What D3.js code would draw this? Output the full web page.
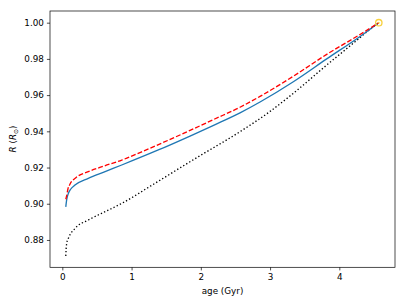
<!DOCTYPE html>
<html>
<head>
<meta charset="utf-8">
<script src="https://cdn.jsdelivr.net/npm/d3@7"></script>
<style>
    body { margin: 0; background: #fff; }
    svg text { font-family: "DejaVu Sans", sans-serif; }
</style>
</head>
<body>
<div id="chart"></div>
<script>
// ages in Gyr, radius in solar radii
const blueAge = [0.05, 0.06, 0.07, 0.087, 0.12, 0.183, 0.375, 0.6, 0.858, 1.386, 1.844, 2.2, 2.566, 2.855, 3.336, 3.818, 4.299, 4.57];
const blueR = [0.8983, 0.9015, 0.9035, 0.9057, 0.908, 0.9103, 0.914, 0.9175, 0.9214, 0.9297, 0.9374, 0.9436, 0.9502, 0.9562, 0.9674, 0.98, 0.9924, 1.0];

const redAge = [0.05, 0.063, 0.08, 0.11, 0.2, 0.375, 0.6, 0.858, 1.147, 1.844, 2.2, 2.566, 2.855, 3.336, 3.818, 4.299, 4.57];
const redR = [0.9025, 0.9045, 0.908, 0.9108, 0.9145, 0.9177, 0.9208, 0.9241, 0.9287, 0.9405, 0.9468, 0.9533, 0.9593, 0.9704, 0.9825, 0.9935, 1.0];

const blackAge = [0.05, 0.055, 0.065, 0.087, 0.183, 0.375, 0.617, 0.858, 1.339, 1.844, 2.013, 2.566, 3.0, 3.336, 3.818, 4.2, 4.44, 4.57];
const blackR = [0.8711, 0.875, 0.8785, 0.8809, 0.8864, 0.891, 0.8956, 0.9002, 0.9113, 0.9232, 0.9271, 0.9398, 0.951, 0.961, 0.9766, 0.9886, 0.9962, 1.0];

const sunAge = [4.57];
const sunR = [1.0];

const xTicks = [0, 1, 2, 3, 4];
const yTicks = [0.88, 0.90, 0.92, 0.94, 0.96, 0.98, 1.00];

const width = 407, height = 305;
const margin = { left: 50, right: 12, top: 11, bottom: 38 };

const svg = d3.select("#chart").append("svg")
    .attr("width", width)
    .attr("height", height);

const x = d3.scaleLinear()
    .domain([-0.178, 4.804])
    .range([margin.left, width - margin.right]);

const y = d3.scaleLinear()
    .domain([0.8649, 1.00645])
    .range([height - margin.bottom + 0.3, margin.top]);

const line = d3.line()
    .curve(d3.curveMonotoneX)
    .x(d => x(d[0]))
    .y(d => y(d[1]));

const plot = svg.append("g");

plot.append("path")
    .datum(d3.zip(blackAge, blackR))
    .attr("d", line)
    .attr("fill", "none")
    .attr("stroke", "black")
    .attr("stroke-width", 1.33)
    .attr("stroke-dasharray", "1.33,2.2");

plot.append("path")
    .datum(d3.zip(blueAge, blueR))
    .attr("d", line)
    .attr("fill", "none")
    .attr("stroke", "#1f77b4")
    .attr("stroke-width", 1.33);

plot.append("path")
    .datum(d3.zip(redAge, redR))
    .attr("d", line)
    .attr("fill", "none")
    .attr("stroke", "red")
    .attr("stroke-width", 1.33)
    .attr("stroke-dasharray", "4.9,2.1");

// Sun symbol
const sun = plot.selectAll("g.sun")
    .data(d3.zip(sunAge, sunR))
    .join("g")
    .attr("class", "sun")
    .attr("transform", d => `translate(${x(d[0])},${y(d[1])})`);
sun.append("circle")
    .attr("r", 3.2)
    .attr("fill", "none")
    .attr("stroke", "#f7d13e")
    .attr("stroke-width", 1.3);
sun.append("circle")
    .attr("r", 0.9)
    .attr("fill", "#f7d13e");

// axes
const xAxis = d3.axisBottom(x)
    .tickValues(xTicks)
    .tickFormat(d3.format("d"))
    .tickSize(3.1)
    .tickPadding(3);

const yAxis = d3.axisLeft(y)
    .tickValues(yTicks)
    .tickFormat(d3.format(".2f"))
    .tickSize(3.1)
    .tickPadding(3);

const gx = svg.append("g")
    .attr("transform", `translate(0,${height - margin.bottom + 0.3})`)
    .call(xAxis);

const gy = svg.append("g")
    .attr("transform", `translate(${margin.left},0)`)
    .call(yAxis);

[gx, gy].forEach(g => {
    g.select(".domain").remove();
    g.selectAll("line").attr("stroke", "black").attr("stroke-width", 0.7);
    g.selectAll("text").attr("font-size", "8.8px").attr("fill", "black")
        .attr("font-family", "DejaVu Sans, sans-serif");
});

// frame
svg.append("rect")
    .attr("x", margin.left)
    .attr("y", margin.top)
    .attr("width", width - margin.right - margin.left)
    .attr("height", height - margin.bottom + 0.3 - margin.top)
    .attr("fill", "none")
    .attr("stroke", "black")
    .attr("stroke-width", 0.7);

// labels
svg.append("text")
    .attr("x", (margin.left + width - margin.right) / 2)
    .attr("y", 294)
    .attr("text-anchor", "middle")
    .attr("font-size", "8.8px")
    .text("age (Gyr)");

const yl = svg.append("text")
    .attr("transform", `translate(16,${(margin.top + height - margin.bottom) / 2}) rotate(-90)`)
    .attr("text-anchor", "middle")
    .attr("font-size", "8.8px");
yl.append("tspan").attr("font-style", "italic").text("R");
yl.append("tspan").text(" (");
yl.append("tspan").attr("font-style", "italic").text("R");
yl.append("tspan").attr("font-size", "6px").attr("dy", "2").text("⊙");
yl.append("tspan").attr("dy", "-2").text(")");
</script>
</body>
</html>
